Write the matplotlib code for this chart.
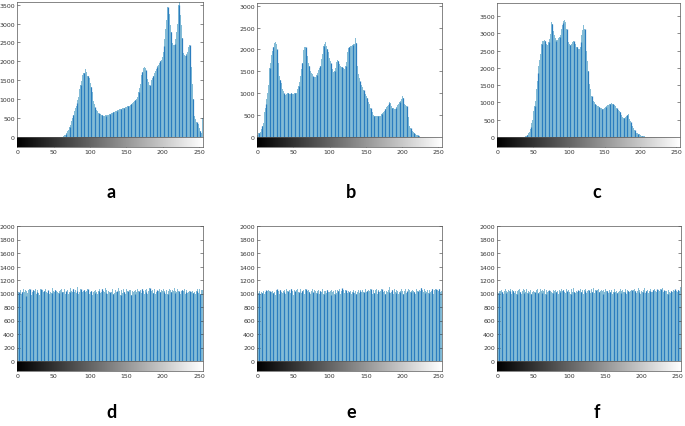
#histograms of six images (a-c original, d-f equalized)
import numpy as np
import matplotlib
matplotlib.use('Agg')
import matplotlib.pyplot as plt

#gray levels 0..255
levels = list(range(256))

#counts
hist_a = [0]*48 + [
    0, 0, 0, 0, 0, 0, 0, 0, 0, 0, 0, 0, 3, 6, 12, 20,
    30, 45, 65, 90, 115, 150, 185, 220, 260, 310, 370, 430, 500, 570, 640, 700,
    760, 830, 900, 980, 1070, 1170, 1270, 1380, 1480, 1570, 1640, 1700, 1690, 1760, 1790, 1720,
    1660, 1620, 1600, 1560, 1500, 1420, 1320, 1200, 1080, 960, 870, 800, 750, 710, 680, 650,
    630, 610, 600, 590, 580, 570, 560, 565, 560, 570, 565, 575, 580, 590, 600, 605,
    610, 620, 630, 640, 655, 660, 670, 680, 690, 700, 710, 720, 720, 730, 740, 745,
    750, 760, 770, 775, 780, 790, 785, 800, 810, 820, 830, 840, 850, 870, 900, 920,
    930, 950, 970, 990, 1010, 1050, 1120, 1200, 1300, 1410, 1520, 1630, 1720, 1790, 1830, 1850,
    1830, 1760, 1650, 1540, 1450, 1400, 1380, 1360, 1430, 1520, 1570, 1610, 1650, 1700, 1740, 1790,
    1840, 1880, 1910, 1930, 1960, 2000, 2030, 2070, 2120, 2250, 2400, 2600, 2850, 3100, 3330, 3440,
    3380, 3250, 3120, 2950, 2780, 2600, 2480, 2430, 2420, 2470, 2600, 2770, 2980, 3250, 3500, 3560,
    3440, 3220, 2950, 2620, 2330, 2230, 2170, 2150, 2160, 2200, 2260, 2330, 2390, 2430, 2380, 2200,
    1850, 1400, 1000, 760, 560, 470, 420, 390, 380, 350, 300, 240, 170, 110, 80, 500]

hist_b = [
    40, 60, 80, 100, 120, 140, 180, 240, 330, 420, 560, 660, 760, 860, 1000, 1180,
    1400, 1580, 1680, 1780, 1880, 1960, 2050, 2100, 2140, 2160, 2130, 2020, 1850, 1700, 1550, 1400,
    1310, 1230, 1170, 1100, 1050, 1000, 980, 970, 990, 1010, 1015, 1000, 990, 970, 980, 1000,
    995, 985, 990, 1000, 995, 1000, 1010, 1050, 1100, 1170, 1250, 1320, 1400, 1550, 1700, 1850,
    1980, 2060, 2120, 2060, 1960, 1850, 1760, 1680, 1620, 1560, 1500, 1460, 1430, 1400, 1380, 1370,
    1360, 1380, 1420, 1470, 1470, 1520, 1580, 1620, 1660, 1780, 1900, 2010, 2080, 2130, 2160, 2140,
    2080, 2020, 1950, 1880, 1810, 1740, 1680, 1620, 1560, 1490, 1430, 1500, 1580, 1660, 1720, 1760,
    1740, 1700, 1660, 1620, 1600, 1590, 1590, 1570, 1560, 1550, 1620, 1720, 1850, 1950, 2030, 2050,
    2060, 2070, 2080, 2100, 2110, 2120, 2130, 2180, 2270, 2150, 1900, 1620, 1450, 1350, 1280, 1220,
    1180, 1150, 1130, 1080, 1030, 1000, 980, 930, 900, 860, 810, 760, 710, 670, 620, 560,
    520, 500, 490, 480, 485, 480, 475, 470, 480, 485, 490, 500, 520, 540, 560, 580,
    600, 630, 660, 690, 710, 740, 770, 790, 780, 740, 700, 670, 670, 650, 630, 640,
    660, 690, 720, 750, 780, 800, 830, 860, 900, 940, 900, 820, 750, 730, 710, 700,
    600, 450, 330, 260, 210, 175, 150, 130, 110, 100, 85, 70, 55, 45, 40, 30,
    20, 12, 6, 3] + [0]*28

hist_c = [0]*32 + [
    0, 0, 0, 0, 2, 5, 10, 15, 25, 40, 60, 80, 110, 150, 220, 300,
    400, 500, 610, 750, 890, 1040, 1190, 1400, 1620, 1850, 2060, 2230, 2400, 2550, 2680, 2780,
    2840, 2780, 2800, 2790, 2740, 2680, 2650, 2700, 2760, 2840, 2980, 3180, 3320, 3260, 3170, 3080,
    2960, 2860, 2790, 2800, 2820, 2840, 2870, 2900, 2940, 3020, 3120, 3230, 3300, 3360, 3400, 3330,
    3250, 3130, 3000, 2860, 2740, 2690, 2670, 2650, 2700, 2750, 2790, 2770, 2740, 2700, 2650, 2620,
    2600, 2580, 2560, 2550, 2600, 2750, 2940, 3100, 3200, 3230, 3120, 2980, 2840, 2500, 2200, 1920,
    1700, 1530, 1390, 1280, 1180, 1100, 1050, 1020, 1000, 970, 940, 920, 900, 890, 870, 860,
    850, 840, 830, 825, 820, 830, 850, 870, 880, 900, 920, 940, 950, 960, 970, 980,
    980, 970, 950, 935, 920, 890, 860, 840, 820, 790, 760, 740, 710, 670, 630, 590,
    560, 555, 560, 580, 560, 610, 650, 670, 620, 520, 470, 430, 380, 320, 270, 230,
    190, 160, 145, 125, 110, 100, 90, 75, 60, 50, 40, 30, 25, 20, 15, 12,
    10, 5, 2] + [0]*45

hist_d = [
    1040, 1010, 1025, 1000, 1055, 1030, 990, 1015, 1060, 1005, 1020, 1045, 970, 1035, 1010, 1050,
    1000, 1065, 1020, 985, 1040, 1015, 1055, 1000, 1030, 1070, 995, 1025, 1045, 1010, 975, 1035,
    1060, 1020, 1000, 1050, 1015, 1040, 985, 1065, 1025, 1005, 1045, 1030, 990, 1055, 1020, 1010,
    1075, 1000, 1035, 1015, 1050, 980, 1040, 1020, 1065, 1005, 1030, 1045, 995, 1060, 1015, 1025,
    1040, 1070, 1000, 1030, 1010, 1055, 990, 1045, 1020, 1080, 1005, 1035, 1015, 1060, 985, 1025,
    1050, 1010, 1040, 1095, 1000, 1030, 1020, 1065, 995, 1045, 1015, 1035, 1055, 980, 1025, 1040,
    1010, 1060, 1030, 1000, 1050, 1020, 1040, 975, 1065, 1015, 1035, 1005, 1055, 1025, 990, 1045,
    1030, 1070, 1005, 1040, 1015, 1060, 1000, 1035, 1020, 1085, 1010, 1045, 995, 1030, 1055, 1020,
    1000, 1045, 1025, 1065, 990, 1035, 1010, 1055, 1020, 1040, 1000, 1075, 1015, 1030, 985, 1050,
    1025, 1005, 1060, 1020, 1040, 995, 1070, 1015, 1035, 1000, 1050, 1025, 1045, 980, 1030, 1060,
    1015, 1040, 1000, 1055, 1025, 1065, 990, 1030, 1010, 1050, 1035, 1005, 1070, 1020, 1040, 995,
    1045, 1020, 1060, 1000, 1030, 1015, 1075, 1025, 990, 1040, 1055, 1010, 1035, 1065, 1000, 1025,
    1050, 1010, 1035, 980, 1060, 1020, 1045, 1005, 1030, 1070, 1015, 1040, 995, 1055, 1025, 1000,
    1035, 1065, 1010, 1045, 1020, 990, 1050, 1030, 1075, 1005, 1040, 1015, 1060, 985, 1035, 1020,
    1055, 1000, 1030, 1050, 1015, 1040, 1065, 995, 1025, 1045, 1010, 1060, 1020, 1035, 1000, 1080,
    1015, 1040, 1005, 1055, 1025, 990, 1045, 1030, 1060, 1010, 1035, 1070, 1000, 1050, 1025, 1045]

hist_e = [
    1030, 1045, 1010, 1035, 990, 1050, 1020, 1005, 1040, 1060, 1000, 1025, 1045, 975, 1030, 1055,
    1015, 1040, 995, 1065, 1020, 1035, 1005, 1050, 1025, 985, 1045, 1060, 1010, 1030, 1040, 1000,
    1055, 1020, 1075, 1005, 1035, 1015, 1045, 990, 1060, 1025, 1040, 1000, 1050, 1030, 1010, 1065,
    1020, 1040, 985, 1055, 1030, 1005, 1045, 1015, 1070, 1025, 1000, 1040, 1060, 1010, 1035, 1020,
    1050, 995, 1040, 1065, 1015, 1030, 1000, 1055, 1025, 1045, 990, 1035, 1060, 1020, 1005, 1050,
    1030, 1075, 1010, 1040, 1020, 1055, 1000, 1035, 1045, 1015, 1065, 1025, 995, 1040, 1030, 1060,
    1005, 1045, 1025, 1070, 1015, 1040, 985, 1055, 1020, 1035, 1065, 1000, 1045, 1030, 1010, 1050,
    1040, 1020, 1060, 1000, 1035, 1075, 1015, 1045, 1030, 1005, 1055, 1025, 1070, 1010, 1040, 1020,
    1065, 1030, 1000, 1050, 1025, 1045, 1010, 1060, 1035, 990, 1040, 1020, 1055, 1005, 1030, 1050,
    1015, 1045, 1070, 1025, 1000, 1040, 1060, 1020, 1035, 1005, 1050, 1030, 1015, 1065, 1040, 995,
    1030, 1055, 1010, 1045, 1025, 1070, 1000, 1035, 1050, 1020, 1040, 1005, 1060, 1025, 1045, 1015,
    1040, 1000, 1065, 1030, 1015, 1050, 1025, 1090, 1005, 1040, 1020, 1055, 995, 1035, 1060, 1025,
    1010, 1045, 1030, 1000, 1055, 1020, 1040, 1065, 1015, 1035, 1000, 1050, 1030, 1070, 1010, 1040,
    1025, 1060, 1005, 1045, 1020, 1035, 990, 1055, 1030, 1015, 1045, 1000, 1065, 1025, 1040, 1010,
    1050, 1020, 1035, 1075, 1000, 1045, 1025, 1060, 1010, 1040, 1020, 1055, 1030, 1005, 1050, 1035,
    1015, 1040, 1060, 1025, 1000, 1050, 1030, 1070, 1020, 1045, 1005, 1035, 1065, 1015, 1040, 1030]

hist_f = [
    1020, 1050, 1005, 1040, 1030, 995, 1055, 1015, 1045, 1000, 1035, 1060, 1010, 1040, 1025, 1050,
    1005, 1035, 1065, 1020, 990, 1045, 1030, 1075, 1010, 1040, 1055, 1000, 1030, 1050, 1015, 1060,
    1025, 1045, 1000, 1035, 1070, 1010, 1050, 1025, 1040, 1065, 1005, 1030, 1055, 1020, 1045, 990,
    1060, 1015, 1040, 1080, 1025, 1000, 1050, 1035, 1065, 1010, 1045, 1020, 1070, 1030, 1005, 1055,
    1040, 1020, 1060, 1000, 1045, 1085, 1015, 1035, 1055, 1005, 1040, 1025, 1065, 1010, 1050, 1030,
    1000, 1045, 1020, 1060, 1035, 995, 1050, 1025, 1040, 1070, 1010, 1035, 1055, 1020, 1045, 1005,
    1065, 1030, 1010, 1050, 1025, 1040, 1000, 1060, 1035, 1015, 1075, 1025, 1045, 1005, 1040, 1020,
    1055, 1000, 1040, 1030, 1065, 1015, 1045, 1025, 995, 1050, 1035, 1060, 1010, 1040, 1020, 1055,
    1030, 1045, 1005, 1060, 1020, 1040, 1075, 1010, 1035, 1050, 1000, 1045, 1030, 1065, 1015, 1040,
    1020, 1055, 1035, 1000, 1045, 1025, 1060, 1010, 1040, 1030, 1070, 1005, 1050, 1020, 1035, 1055,
    1000, 1040, 1025, 1065, 1015, 1045, 1030, 1005, 1055, 1020, 1040, 1060, 1010, 1035, 1050, 1025,
    1045, 1015, 1060, 1030, 1000, 1050, 1040, 1070, 1020, 1035, 1005, 1055, 1025, 1045, 1015, 1065,
    1030, 1050, 1010, 1040, 1075, 1020, 1045, 1000, 1060, 1030, 1015, 1050, 1040, 1085, 1010, 1035,
    1025, 1055, 1005, 1045, 1030, 1065, 1015, 1040, 1020, 1050, 1000, 1060, 1035, 1025, 1070, 1010,
    1045, 1020, 1040, 1060, 1005, 1035, 1075, 1025, 1050, 1015, 1040, 1030, 1065, 1000, 1045, 1025,
    1055, 1010, 1035, 1080, 1020, 1045, 1030, 1060, 1005, 1040, 1070, 1015, 1050, 1035, 1065, 1090]

#panel letters, y-axis tops and tick steps
letters = ['a', 'b', 'c', 'd', 'e', 'f']
hists = [hist_a, hist_b, hist_c, hist_d, hist_e, hist_f]
ytops = [3570, 3060, 3880, 2000, 2000, 2000]
ysteps = [500, 500, 500, 200, 200, 200]
xticks = [0, 50, 100, 150, 200, 250]

#axes boxes in pixels: left, right, top, bottom
W, H = 685, 427
boxes = [(17, 203, 3, 148), (257, 442, 4, 148), (497, 680, 4, 148),
         (17, 203, 227, 372), (257, 442, 227, 372), (497, 681, 227, 372)]
letter_x = [111, 351, 597, 111, 351, 597]
letter_y = [193, 193, 193, 413, 413, 413]

fig = plt.figure(figsize=(W/100, H/100), dpi=100)
gradient = np.linspace(0, 1, 256).reshape(1, -1)

for i in range(6):
    l, r, t, b = boxes[i]
    ax = fig.add_axes([l/W, 1-b/H, (r-l)/W, (b-t)/H])
    top = ytops[i]
    bottom = -top*10/(b-t-10)
    counts = hists[i]
    #light fill bars
    ax.bar(levels, counts, width=1.0, color='#84bcd6', linewidth=0)
    #darker stems that show through
    ax.vlines(levels[2::5], 0, counts[2::5], color='#2b7dbf', linewidth=0.9)
    #grayscale strip under the histogram
    ax.imshow(gradient, cmap='gray', aspect='auto', extent=(-0.5, 255.5, bottom, 0), zorder=3)
    ax.axhline(0, color='#555555', linewidth=0.5, zorder=4)
    ax.set_xlim(-0.5, 255.5)
    ax.set_ylim(bottom, top)
    ax.set_xticks(xticks)
    ax.set_yticks(range(0, top+1, ysteps[i]))
    ax.tick_params(direction='in', length=2, width=0.4, labelsize=4.5, colors='#333333',
                   pad=1.5, right=True, top=False)
    for s in ax.spines.values():
        s.set_linewidth(0.5)
        s.set_color('#555555')
    fig.text(letter_x[i]/W, 1-letter_y[i]/H, letters[i], ha='center', va='center',
             fontsize=13, fontweight='bold', family=['Lato', 'DejaVu Sans'])

fig.savefig('out.png', dpi=100)
